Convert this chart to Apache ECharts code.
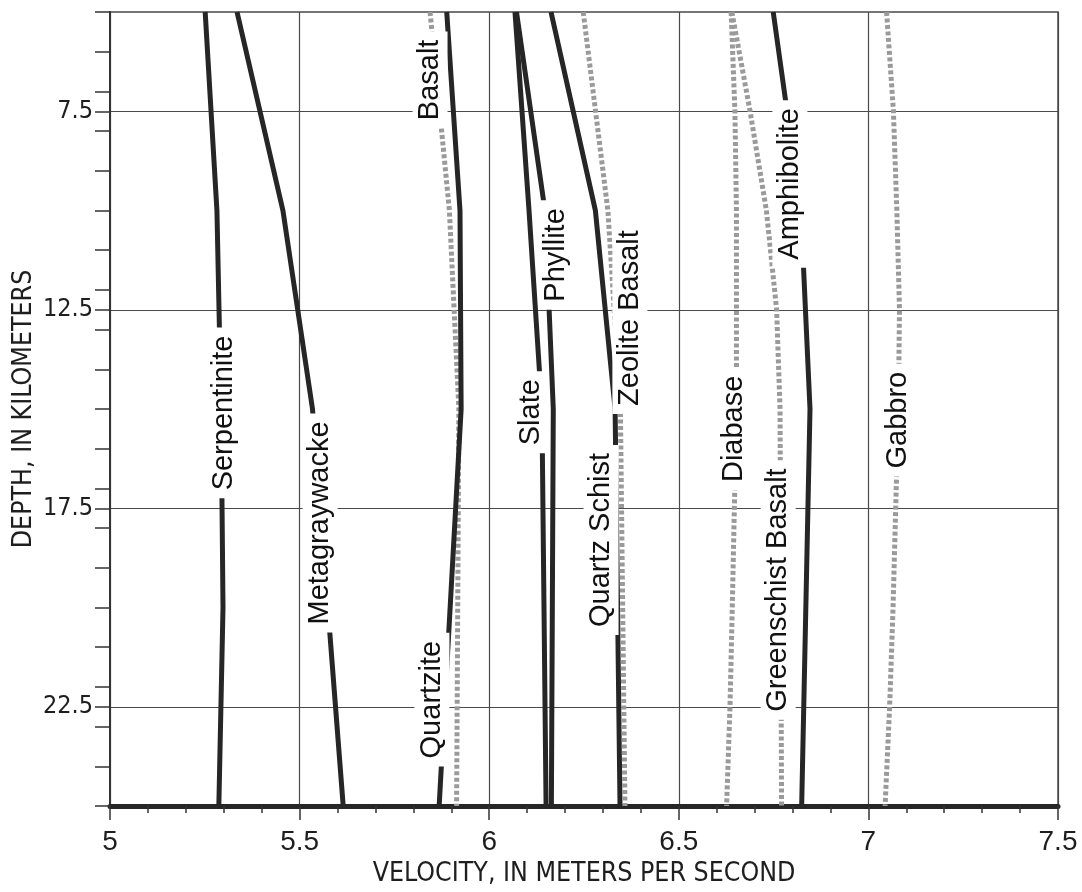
<!DOCTYPE html>
<html>
<head>
<meta charset="utf-8">
<title>Seismic velocity of rock types with depth</title>
<script src="https://cdn.jsdelivr.net/npm/echarts@6/dist/echarts.min.js"></script>
<style>
  html, body { margin: 0; padding: 0; background: #fff; }
  #chart { width: 1082px; height: 892px; }
</style>
</head>
<body>
<div id="chart"></div>
<script>
// Velocity (m/s, as plotted) versus depth (km) for each rock type.
const rockNames = [
  'Serpentinite', 'Metagraywacke', 'Basalt', 'Quartzite', 'Slate', 'Phyllite',
  'Quartz Schist', 'Zeolite Basalt', 'Diabase', 'Greenschist Basalt', 'Amphibolite', 'Gabbro'
];

const serpentiniteDepth = [5, 10, 15, 20, 25];
const serpentiniteVel   = [5.251, 5.282, 5.293, 5.298, 5.287];

const metagraywackeDepth = [5, 10, 15, 25];
const metagraywackeVel   = [5.335, 5.456, 5.534, 5.615];

const basaltDepth = [5, 10, 15, 20, 25];
const basaltVel   = [5.844, 5.895, 5.920, 5.917, 5.914];

const quartziteDepth = [5, 10, 15, 25];
const quartziteVel   = [5.888, 5.923, 5.926, 5.868];

const slateDepth = [5, 10, 15, 25];
const slateVel   = [6.068, 6.105, 6.139, 6.150];

const phylliteDepth = [5, 10, 15, 25];
const phylliteVel   = [6.072, 6.147, 6.169, 6.164];

const quartzSchistDepth = [5, 10, 15, 25];
const quartzSchistVel   = [6.163, 6.280, 6.332, 6.345];

const zeoliteBasaltDepth = [5, 10, 15, 25];
const zeoliteBasaltVel   = [6.248, 6.313, 6.346, 6.358];

const diabaseDepth = [5, 7.5, 10, 15, 20, 22.5, 25];
const diabaseVel   = [6.638, 6.648, 6.652, 6.652, 6.641, 6.635, 6.626];

const greenschistDepth = [5, 7.5, 10, 12.5, 15, 25];
const greenschistVel   = [6.640, 6.688, 6.731, 6.758, 6.767, 6.771];

const amphiboliteDepth = [5, 10, 15, 25];
const amphiboliteVel   = [6.749, 6.822, 6.846, 6.824];

const gabbroDepth = [5, 7.5, 10, 12.5, 15, 20, 22.5, 25];
const gabbroVel   = [7.048, 7.066, 7.075, 7.082, 7.079, 7.065, 7.056, 7.044];

// Where each rock name sits along its curve: [velocity, depth]
const labelVel   = [5.300, 5.554, 5.844, 5.849, 6.110, 6.176, 6.295, 6.371, 6.646, 6.762, 6.793, 7.078];
const labelDepth = [15.10, 17.87, 6.71, 22.32, 15.08, 11.12, 18.30, 12.71, 15.50, 19.56, 9.33, 15.28];

// Line style per rock: solid dark or dotted grey
const rockDotted = [false, false, true, false, false, false, false, true, true, true, false, true];

// Axis tick labels
const xTicks = [5, 5.5, 6, 6.5, 7, 7.5];
const yTickLabels = [7.5, 12.5, 17.5, 22.5];

const rockCurves = [
  [serpentiniteVel, serpentiniteDepth],
  [metagraywackeVel, metagraywackeDepth],
  [basaltVel, basaltDepth],
  [quartziteVel, quartziteDepth],
  [slateVel, slateDepth],
  [phylliteVel, phylliteDepth],
  [quartzSchistVel, quartzSchistDepth],
  [zeoliteBasaltVel, zeoliteBasaltDepth],
  [diabaseVel, diabaseDepth],
  [greenschistVel, greenschistDepth],
  [amphiboliteVel, amphiboliteDepth],
  [gabbroVel, gabbroDepth]
];

const DARK = '#262626';
const GREY = '#9a9a9a';
const GRID = '#4a4a4a';
const TICK_FONT = "'Liberation Sans', Arial, Helvetica, sans-serif";
const NARROW_FONT = "'Liberation Sans Narrow', 'Arial Narrow', 'DejaVu Sans Condensed', sans-serif";

const lineSeries = rockCurves.map(function (curve, i) {
  const vel = curve[0], dep = curve[1];
  return {
    name: rockNames[i],
    type: 'line',
    yAxisIndex: 0,
    symbol: 'none',
    z: 3,
    silent: true,
    data: vel.map(function (v, k) { return [v, dep[k]]; }),
    lineStyle: rockDotted[i]
      ? { color: GREY, width: 5, type: [4, 2.5], cap: 'butt' }
      : { color: DARK, width: 5, type: 'solid', cap: 'butt', join: 'miter' }
  };
});

const labelSeries = {
  name: 'rock labels',
  type: 'scatter',
  yAxisIndex: 0,
  z: 10,
  silent: true,
  symbolSize: 1,
  itemStyle: { color: '#ffffff', opacity: 1 },
  data: rockNames.map(function (n, i) {
    return { name: n, value: [labelVel[i], labelDepth[i]] };
  }),
  label: {
    show: true,
    position: 'inside',
    rotate: 90,
    formatter: '{b}',
    fontFamily: TICK_FONT,
    fontSize: 29,
    color: '#111111',
    opacity: 1,
    backgroundColor: '#ffffff',
    padding: [3, 8]
  },
  labelLayout: { hideOverlap: false },
  emphasis: { disabled: true }
};

const chart = echarts.init(document.getElementById('chart'), null, { renderer: 'canvas' });

chart.setOption({
  animation: false,
  backgroundColor: '#ffffff',
  grid: {
    left: 110, right: 24, top: 12, bottom: 86,
    containLabel: false,
    outerBoundsMode: 'none',
    show: true, borderColor: GRID, borderWidth: 1.5, backgroundColor: 'transparent'
  },
  xAxis: {
    type: 'value',
    min: xTicks[0],
    max: xTicks[xTicks.length - 1],
    interval: 0.5,
    name: 'VELOCITY, IN METERS PER SECOND',
    nameLocation: 'middle',
    nameGap: 55,
    nameMoveOverlap: false,
    nameTextStyle: { fontFamily: NARROW_FONT, fontSize: 26.5, color: '#1e1e1e' },
    axisLine: { show: true, onZero: false, lineStyle: { color: DARK, width: 5 } },
    axisTick: { show: true, inside: false, length: 14, lineStyle: { color: '#333', width: 1.5 } },
    minorTick: { show: true, splitNumber: 5, length: 7, lineStyle: { color: '#333', width: 1.5 } },
    axisLabel: {
      fontFamily: TICK_FONT, fontSize: 28, color: '#1e1e1e', margin: 22,
      formatter: function (v) { return xTicks.indexOf(v) >= 0 ? String(v) : ''; }
    },
    splitLine: { show: true, lineStyle: { color: GRID, width: 1.2 } }
  },
  yAxis: [
    {
      // integer-depth ticks and the left frame line
      type: 'value',
      inverse: true,
      min: 5, max: 25, interval: 1,
      position: 'left',
      axisLine: { show: true, onZero: false, lineStyle: { color: '#333', width: 2 } },
      axisTick: { show: true, inside: false, length: 15, lineStyle: { color: '#333', width: 1.5 } },
      axisLabel: { show: false },
      splitLine: { show: false }
    },
    {
      // labelled depths with their grid lines
      type: 'value',
      inverse: true,
      min: 5, max: 25, interval: 2.5,
      position: 'left',
      offset: 0,
      name: 'DEPTH, IN KILOMETERS',
      nameLocation: 'middle',
      nameRotate: 90,
      nameGap: 72,
      nameMoveOverlap: false,
      nameTextStyle: { fontFamily: NARROW_FONT, fontSize: 26.5, color: '#1e1e1e' },
      axisLine: { show: false },
      axisTick: { show: true, inside: false, length: 15, lineStyle: { color: '#333', width: 1.5 } },
      axisLabel: {
        fontFamily: NARROW_FONT, fontSize: 25, color: '#1e1e1e', margin: 17,
        formatter: function (v) {
          return yTickLabels.indexOf(v) >= 0 ? v.toFixed(1) : '';
        }
      },
      splitLine: { show: true, lineStyle: { color: ['rgba(0,0,0,0)', GRID], width: 1.2 } }
    }
  ],
  series: lineSeries.concat([labelSeries])
});
</script>
</body>
</html>
